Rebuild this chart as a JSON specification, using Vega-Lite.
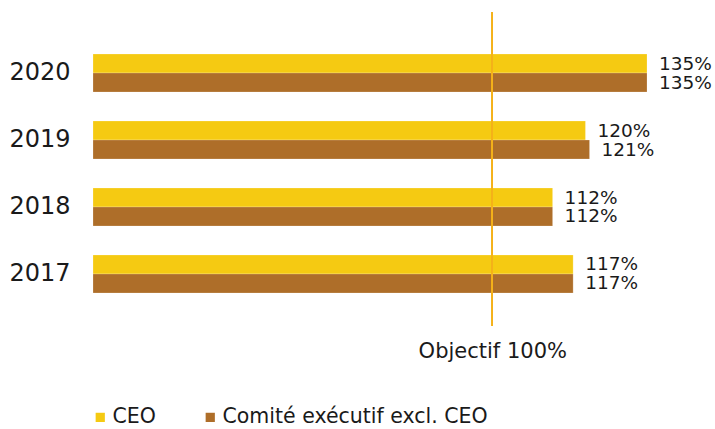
{
  "$schema": "https://vega.github.io/schema/vega-lite/v6.json",
  "width": 554,
  "height": 314,
  "autosize": {"type": "none"},
  "padding": {"left": 93, "top": 12, "right": 68, "bottom": 103},
  "background": "white",
  "config": {
    "font": "DejaVu Sans",
    "view": {"stroke": null}
  },
  "data": {
    "values": [
      {"year": "2020", "series": "CEO", "value": 1.35},
      {"year": "2020", "series": "Comité exécutif excl. CEO", "value": 1.35},
      {"year": "2019", "series": "CEO", "value": 1.20},
      {"year": "2019", "series": "Comité exécutif excl. CEO", "value": 1.21},
      {"year": "2018", "series": "CEO", "value": 1.12},
      {"year": "2018", "series": "Comité exécutif excl. CEO", "value": 1.12},
      {"year": "2017", "series": "CEO", "value": 1.17},
      {"year": "2017", "series": "Comité exécutif excl. CEO", "value": 1.17}
    ]
  },
  "layer": [
    {
      "mark": {"type": "bar", "stroke": "#ffffff", "strokeOpacity": 0.35, "strokeWidth": 0.6},
      "encoding": {
        "y": {
          "field": "year", "type": "ordinal", "sort": "descending",
          "scale": {"paddingInner": 0.433, "paddingOuter": 0.56, "align": 0.56},
          "axis": {"title": null, "ticks": false, "domain": false, "labelFontSize": 24, "labelPadding": 23, "labelColor": "#1a1a1a"}
        },
        "yOffset": {"field": "series", "type": "nominal", "sort": ["CEO", "Comité exécutif excl. CEO"]},
        "x": {
          "field": "value", "type": "quantitative",
          "scale": {"domain": [0, 1.35], "nice": false, "zero": true},
          "axis": {"title": null, "values": [0.973], "labelExpr": "'Objectif 100%'", "ticks": false, "domain": false, "grid": false, "labelFontSize": 21, "labelPadding": 14, "labelColor": "#1a1a1a", "labelFlush": false, "labelOverlap": false, "labelLimit": 0}
        },
        "color": {
          "field": "series", "type": "nominal",
          "scale": {"domain": ["CEO", "Comité exécutif excl. CEO"], "range": ["#F5CA12", "#AE6E29"]},
          "legend": {"title": null, "orient": "none", "legendX": -3, "legendY": 395, "direction": "horizontal", "symbolType": "square", "symbolSize": 85, "symbolStrokeWidth": 0, "labelFontSize": 20.5, "labelColor": "#1a1a1a", "labelOffset": 2, "columnPadding": 44, "labelLimit": 0}
        }
      }
    },
    {
      "mark": {"type": "text", "align": "left", "baseline": "middle", "dx": 12, "fontSize": 18.5, "color": "#1a1a1a"},
      "encoding": {
        "y": {"field": "year", "type": "ordinal", "sort": "descending"},
        "yOffset": {"field": "series", "type": "nominal", "sort": ["CEO", "Comité exécutif excl. CEO"]},
        "x": {"field": "value", "type": "quantitative"},
        "text": {"field": "value", "type": "quantitative", "format": ".0%"}
      }
    },
    {
      "mark": {"type": "rule", "color": "#F5B21B", "strokeWidth": 1.3},
      "encoding": {
        "x": {"datum": 0.973, "type": "quantitative"}
      }
    }
  ]
}
